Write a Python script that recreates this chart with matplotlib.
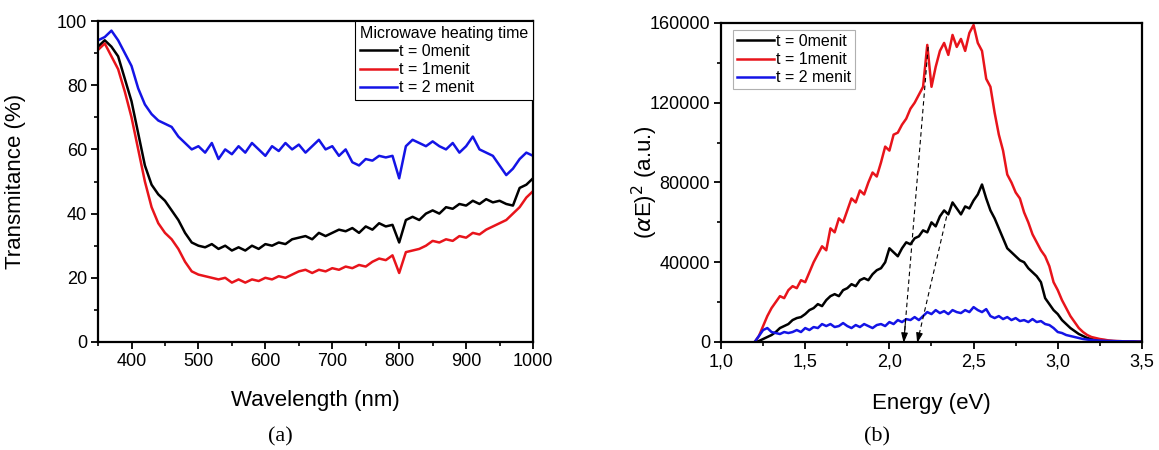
import numpy as np
import matplotlib
matplotlib.use('Agg')
import matplotlib.pyplot as plt
from matplotlib.ticker import MultipleLocator, FuncFormatter

plt.rcParams['font.family'] = ['Liberation Sans', 'DejaVu Sans']

# (a) transmittance, 350-1000 nm every 10 nm
wl_start, wl_step = 350, 10
trans_0 = [92, 94, 92, 89, 82, 75, 65, 55, 49, 46, 44, 41, 38, 34, 31, 30, 29.5, 30.5, 29, 30,
           28.5, 29.5, 28.5, 30, 29, 30.5, 30, 31, 30.5, 32, 32.5, 33, 32, 34, 33, 34, 35, 34.5,
           35.5, 34, 36, 35, 37, 36, 36.5, 31, 38, 39, 38, 40, 41, 40, 42, 41.5, 43, 42.5, 44, 43,
           44.5, 43.5, 44, 43, 42.5, 48, 49, 51]
trans_1 = [91, 93, 89, 85, 78, 70, 60, 50, 42, 37, 34, 32, 29, 25, 22, 21, 20.5, 20, 19.5, 20,
           18.5, 19.5, 18.5, 19.5, 19, 20, 19.5, 20.5, 20, 21, 22, 22.5, 21.5, 22.5, 22, 23, 22.5,
           23.5, 23, 24, 23.5, 25, 26, 25.5, 27, 21.5, 28, 28.5, 29, 30, 31.5, 31, 32, 31.5, 33,
           32.5, 34, 33.5, 35, 36, 37, 38, 40, 42, 45, 47]
trans_2 = [94, 95, 97, 94, 90, 86, 79, 74, 71, 69, 68, 67, 64, 62, 60, 61, 59, 62, 57, 60,
           58.5, 61, 59, 62, 60, 58, 61, 59.5, 62, 60, 61.5, 59, 61, 63, 60, 61, 58, 60, 56, 55,
           57, 56.5, 58, 57.5, 58, 51, 61, 63, 62, 61, 62.5, 61, 60, 62, 59, 61, 64, 60, 59, 58,
           55, 52, 54, 57, 59, 58]

# (b) (alpha E)^2 in thousands, 1.2-3.5 eV every 0.025 eV
ae_0 = [0, 0.5, 1.5, 2.5, 3.5, 5, 7, 8, 9, 11, 12, 12.5, 14, 16, 17, 19, 18, 21, 23, 24, 23, 26,
        27, 29, 28, 31, 32, 31, 34, 36, 37, 40,
        47, 45, 43, 47, 50, 49, 52, 53, 56, 55, 60, 58, 63, 66, 64, 70, 67, 64, 68, 67, 71, 74,
        79, 72, 66, 62, 57, 52, 47, 45, 43, 41, 40, 37, 35, 33, 30, 22, 19, 16,
        14, 11, 9, 7, 5.5, 4, 3, 2, 1.5, 1, 0.8, 0.6, 0.5, 0.4, 0.3, 0.3, 0.2, 0.2, 0.2, 0.1, 0.1]
ae_1 = [0, 3, 8, 13, 17, 20, 23, 22, 26, 28, 27, 31, 30, 35, 40, 44, 48, 46, 57, 55, 62, 60,
        66, 72, 70, 76, 74, 80, 85, 83, 90, 98,
        96, 104, 105, 109, 112, 117, 120, 124, 128, 149, 128, 138, 146, 150, 144, 154, 148, 152,
        146, 155, 159, 150, 146, 132, 128, 115, 104, 96, 84, 80, 75, 72, 65, 60, 54, 50, 46, 43,
        38, 30,
        26, 21, 17, 13, 10, 7, 5, 3.5, 2.5, 2, 1.5, 1.2, 0.8, 0.6, 0.5, 0.4, 0.3, 0.3, 0.2, 0.2, 0.1]
ae_2 = [0, 3, 6, 7, 5, 4.5, 4, 5, 4.5, 5, 6, 5, 7, 6, 7.5, 7, 9, 8, 9, 7.5, 8, 9.5, 8, 7, 8.5,
        7.5, 9, 8, 7, 8.5, 9, 8,
        10, 9, 11, 10, 11.5, 11, 12.5, 11, 13, 15, 14, 16, 14.5, 15.5, 14, 16, 15, 14.5, 16, 15,
        17.5, 16, 15, 16.5, 13, 12, 13, 11.5, 12.5, 11, 12, 10.5, 11, 10, 11.5, 10, 10.5, 9, 8.5, 7,
        5, 4.5, 3.5, 3, 2.5, 2, 1.5, 1.2, 1, 0.8, 0.7, 0.6, 0.5, 0.5, 0.4, 0.4, 0.3, 0.3, 0.3, 0.2, 0.2]

labels = ['t = 0menit', 't = 1menit', 't = 2 menit']
colors = ['#000000', '#e8141b', '#1414e6']

wl = wl_start + wl_step * np.arange(len(trans_0))
energy = np.linspace(1.2, 3.5, len(ae_0))

fig = plt.figure(figsize=(11.59, 4.5), dpi=100)
ax1 = fig.add_axes([0.0846, 0.24, 0.3753, 0.7133])
ax2 = fig.add_axes([0.6221, 0.24, 0.3632, 0.7089])

for ser, lab, c in zip([trans_0, trans_1, trans_2], labels, colors):
    ax1.plot(wl, ser, color=c, lw=1.8, label=lab)
for ser, lab, c in zip([ae_0, ae_1, ae_2], labels, colors):
    ax2.plot(energy, np.array(ser) * 1000, color=c, lw=1.8, label=lab)

# tangent arrows
for (x0, y0), (x1, y1) in [((2.23, 148000), (2.085, -500)), ((2.34, 63000), (2.165, -500))]:
    ax2.plot([x0, x1], [y0, y1], color='k', ls=(0, (4, 3)), lw=0.8)
    ax2.annotate('', xy=(x1, y1), xytext=(x1 + (x0 - x1) * 0.08, y1 + (y0 - y1) * 0.08),
                 annotation_clip=False,
                 arrowprops=dict(arrowstyle='-|>,head_length=0.6,head_width=0.2', color='k',
                                 lw=0.8, shrinkA=0, shrinkB=0))

ax1.set_xlim(350, 1000)
ax1.set_ylim(0, 100)
ax1.xaxis.set_major_locator(MultipleLocator(100))
ax1.xaxis.set_minor_locator(MultipleLocator(50))
ax1.yaxis.set_major_locator(MultipleLocator(20))
ax1.yaxis.set_minor_locator(MultipleLocator(10))
ax1.set_xticks([400, 500, 600, 700, 800, 900, 1000])

ax2.set_xlim(1.0, 3.5)
ax2.set_ylim(0, 160000)
ax2.xaxis.set_major_locator(MultipleLocator(0.5))
ax2.xaxis.set_minor_locator(MultipleLocator(0.25))
ax2.yaxis.set_major_locator(MultipleLocator(40000))
ax2.yaxis.set_minor_locator(MultipleLocator(20000))
ax2.xaxis.set_major_formatter(FuncFormatter(lambda v, p: f'{v:.1f}'.replace('.', ',')))

for ax in (ax1, ax2):
    for s in ax.spines.values():
        s.set_linewidth(1.6)
    ax.tick_params(which='major', direction='out', length=5, width=1.3, labelsize=13, pad=3)
    ax.tick_params(which='minor', direction='out', length=3, width=1.2)

ax1.set_xlabel('Wavelength (nm)', fontsize=16)
ax1.set_ylabel('Transmitance (%)', fontsize=16)
ax1.xaxis.set_label_coords(0.5, -0.15)
ax1.yaxis.set_label_coords(-0.165, 0.5)
ax2.set_xlabel('Energy (eV)', fontsize=16)
ax2.set_ylabel(r'($\alpha$E)$^2$ (a.u.)', fontsize=16)
ax2.xaxis.set_label_coords(0.5, -0.16)
ax2.yaxis.set_label_coords(-0.145, 0.5)

leg1 = ax1.legend(title='Microwave heating time', loc='upper right', borderaxespad=0,
                  fontsize=11.5, title_fontsize=11.5, fancybox=False, edgecolor='k',
                  handlelength=2.3, handletextpad=0.15, labelspacing=0.2, borderpad=0.3,
                  framealpha=1)
leg1.get_frame().set_linewidth(0.8)
leg1._legend_box.align = 'left'

leg2 = ax2.legend(loc='upper left', bbox_to_anchor=(0.028, 0.978), borderaxespad=0,
                  fontsize=11.5, fancybox=False, edgecolor='#b0b0b0', handlelength=2.3,
                  handletextpad=0.15, labelspacing=0.2, borderpad=0.25, framealpha=1)
leg2.get_frame().set_linewidth(0.8)

fig.text(0.2416, 0.029, '(a)', fontsize=16, family='Liberation Serif', ha='center', va='center')
fig.text(0.7567, 0.029, '(b)', fontsize=16, family='Liberation Serif', ha='center', va='center')

fig.savefig('out.png', dpi=100)
